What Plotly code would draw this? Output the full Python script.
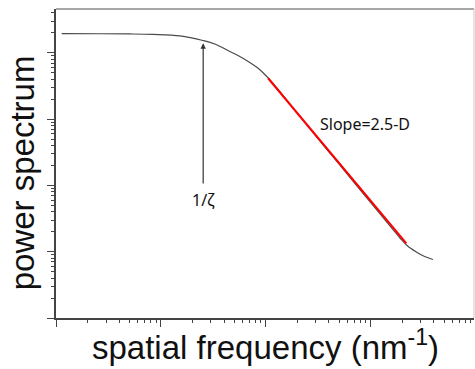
import math
import plotly.graph_objects as go

freq = [0.001133, 0.002624, 0.005066, 0.008390, 0.01517, 0.02512, 0.03266, 0.04539,
        0.05649, 0.07047, 0.08395, 0.1022, 0.1273, 0.2109, 0.507, 1.218, 1.888,
        2.249, 2.723, 3.268, 3.920]
power = [19410, 19350, 19220, 18880, 17920, 15330, 13575, 10460,
         8790, 7140, 5898, 4390, 2944, 1094, 203.1, 37.7, 16.38,
         12.19, 9.9, 8.46, 7.63]

# Power-law fit segment
fit_freq = [0.1052, 2.188]
fit_power = [4125, 13.39]

# Annotation anchors (data units)
corr_arrow_x = 0.0253
corr_arrow_tip = 13900
corr_label = "1/ζ"
corr_label_y = 60.3
slope_label = "Slope=2.5-D"
slope_label_x = 0.3126
slope_label_y = 844

x_title = "spatial frequency (nm<sup>-1</sup>)"
y_title = "power spectrum"

L = math.log10

fig = go.Figure()
fig.add_trace(go.Scatter(x=freq, y=power, mode="lines", line=dict(color="#4a4a4a", width=1.2, shape="spline"),
                         hoverinfo="skip", showlegend=False))
fig.add_trace(go.Scatter(x=fit_freq, y=fit_power, mode="lines", line=dict(color="#ff0000", width=2),
                         hoverinfo="skip", showlegend=False))

# label with arrow pointing to the correlation knee
fig.add_annotation(x=L(corr_arrow_x), y=L(corr_arrow_tip), ax=L(corr_arrow_x), ay=L(corr_label_y),
                   xref="x", yref="y", axref="x", ayref="y", text=corr_label, showarrow=True,
                   borderpad=5, arrowhead=2, arrowsize=0.9, arrowwidth=1.2, arrowcolor="#333333",
                   font=dict(family="Noto Sans, Arial", size=16, color="#111111"))
fig.add_annotation(x=L(slope_label_x), y=L(slope_label_y), xref="x", yref="y", text=slope_label,
                   xanchor="left", showarrow=False, font=dict(family="Noto Sans, Arial", size=16, color="#111111"))

# axis titles
fig.add_annotation(x=0.5, y=-0.088, xref="paper", yref="paper", text=x_title, showarrow=False,
                   yanchor="middle", font=dict(family="Liberation Sans, Arial", size=33, color="#111111"))
fig.add_annotation(x=-0.08, y=0.47, xref="paper", yref="paper", text=y_title, showarrow=False,
                   textangle=-90, xanchor="center", font=dict(family="Liberation Sans, Arial", size=33, color="#111111"))

# top/right borders
fig.add_shape(type="line", xref="paper", yref="paper", x0=0, x1=1, y0=1, y1=1,
              line=dict(color="#888888", width=1.5))
fig.add_shape(type="line", xref="paper", yref="paper", x0=1, x1=1, y0=0, y1=1,
              line=dict(color="#cccccc", width=1))

axis_common = dict(showgrid=False, zeroline=False, showticklabels=False, showline=True,
                   linecolor="#444444", linewidth=1.5, ticks="outside", ticklen=7,
                   tickcolor="#444444", tickwidth=1, dtick=1,
                   minor=dict(ticks="outside", ticklen=3.5, tickcolor="#444444", dtick="D1", showgrid=False))

fig.update_xaxes(type="log", range=[-3, 0.985], **axis_common)
fig.update_yaxes(type="log", range=[0, 4.66], **axis_common)

fig.update_layout(width=475, height=369, margin=dict(l=56, r=1, t=9, b=51),
                  paper_bgcolor="white", plot_bgcolor="white")

fig.write_html("out.html", config={"displayModeBar": False},
               post_script="document.body.style.margin='0';document.body.style.overflow='hidden';")
